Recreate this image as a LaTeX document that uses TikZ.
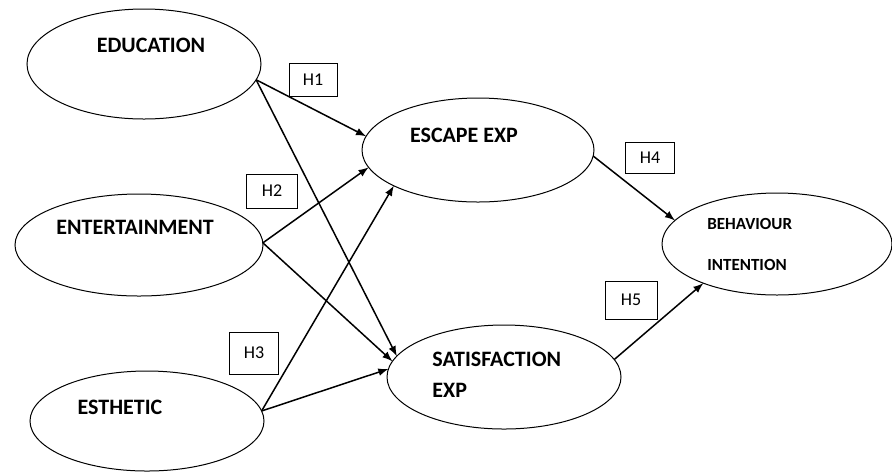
\documentclass[tikz,border=0pt]{standalone}
\usepackage{fontspec}
\setmainfont{Carlito}
\usetikzlibrary{shapes.geometric}
\begin{document}
\begin{tikzpicture}[>=latex,x=0.5pt,y=-0.5pt,
  konstrukt/.style={ellipse,draw,line width=0.5pt,inner sep=0pt,outer sep=0pt},
  titel/.style={font=\fontsize{11}{13}\selectfont\bfseries,inner sep=0pt},
  kleintitel/.style={font=\fontsize{8.5}{10}\selectfont\bfseries,inner sep=0pt,anchor=west},
  hbox/.style={draw,line width=0.5pt,inner sep=0pt,font=\fontsize{9}{11}\selectfont}]
\def\pfad#1#2{
\draw[->,line width=0.75pt] #1 -- #2;
}
\useasboundingbox (0,0) rectangle (892,472);
\coordinate (pedu) at (144,64);
\coordinate (pent) at (139,245);
\coordinate (pest) at (147,421);
\coordinate (pesc) at (478,150);
\coordinate (psat) at (504,377);
\coordinate (pbeh) at (777,244);
\node[konstrukt,minimum width=117pt,minimum height=55pt] (education) at (pedu) {};
\node[konstrukt,minimum width=124pt,minimum height=51pt] (entertainment) at (pent) {};
\node[konstrukt,minimum width=117pt,minimum height=50pt] (esthetic) at (pest) {};
\node[konstrukt,minimum width=116pt,minimum height=52pt] (escape) at (pesc) {};
\node[konstrukt,minimum width=117pt,minimum height=52pt] (satisfaction) at (psat) {};
\node[konstrukt,minimum width=115pt,minimum height=51pt] (behaviour) at (pbeh) {};

\node[titel] (tedu) at (151,45) {EDUCATION};
\node[titel] (tent) at (135,227) {ENTERTAINMENT};
\node[titel] (test) at (120,407) {ESTHETIC};
\node[titel] (tesc) at (464,135) {ESCAPE EXP};
\node[titel,anchor=west] (tsat1) at (432,359) {SATISFACTION};
\node[titel,anchor=west] (tsat2) at (432,390) {EXP};
\node[kleintitel] (tbeh1) at (707,224) {BEHAVIOUR};
\node[kleintitel] (tbeh2) at (707,265) {INTENTION};

\pfad{(education.-8)}{(escape.173)}
\pfad{(education.-8)}{(satisfaction.169)}
\pfad{(entertainment.1)}{(escape.-171.5)}
\pfad{(entertainment.1)}{(satisfaction.172.5)}
\pfad{(esthetic.5.5)}{(escape.-157.6)}
\pfad{(esthetic.5.5)}{(satisfaction.176.5)}
\pfad{(escape.-3.5)}{(behaviour.167.6)}
\pfad{(satisfaction.9.7)}{(behaviour.-152)}

\node[hbox,minimum width=24pt,minimum height=16.5pt] (h1) at (313,80) {H1};
\node[hbox,minimum width=25.5pt,minimum height=17pt] (h2) at (272,191) {H2};
\node[hbox,minimum width=24.5pt,minimum height=21pt] (h3) at (254,353) {H3};
\node[hbox,minimum width=24.5pt,minimum height=15.5pt] (h4) at (650,158) {H4};
\node[hbox,minimum width=26pt,minimum height=19pt] (h5) at (631,300) {H5};
\end{tikzpicture}
\end{document}
